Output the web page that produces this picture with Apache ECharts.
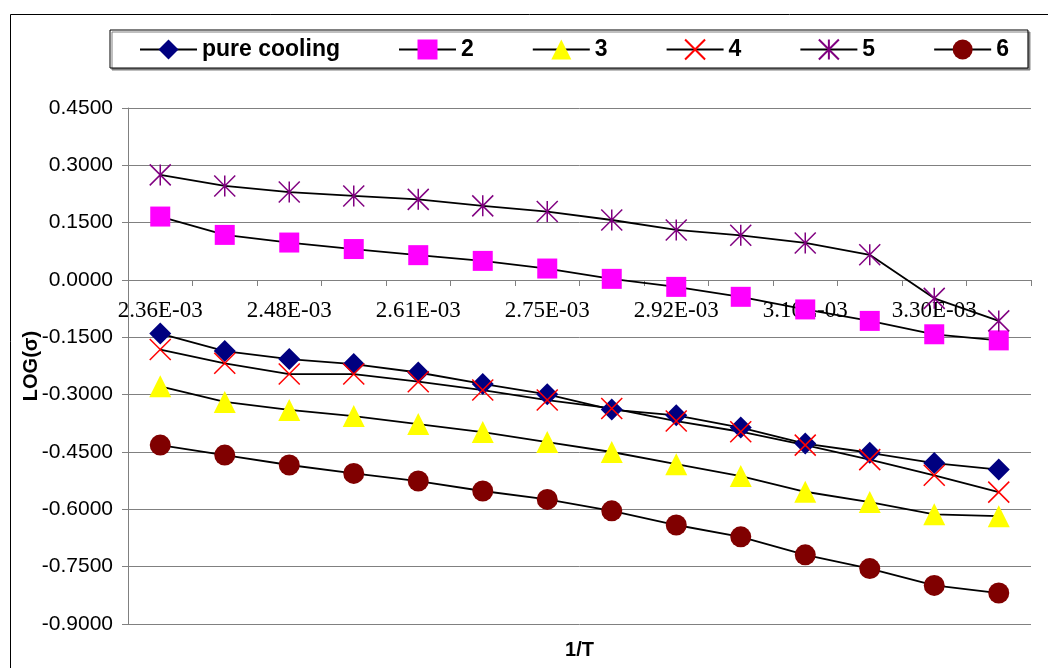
<!DOCTYPE html>
<html>
<head>
<meta charset="utf-8">
<title>LOG(σ) vs 1/T</title>
<script src="https://cdn.jsdelivr.net/npm/echarts@6/dist/echarts.min.js"></script>
<style>
  html, body { margin: 0; padding: 0; background: #fff; }
  #chart { width: 1048px; height: 668px; }
</style>
</head>
<body>
<div id="chart"></div>
<script>
// 1/T categories (every other label shown on the axis)
const xLabels = ['2.36E-03', '2.42E-03', '2.48E-03', '2.54E-03', '2.61E-03', '2.68E-03', '2.75E-03',
  '2.83E-03', '2.92E-03', '3.01E-03', '3.10E-03', '3.20E-03', '3.30E-03', '3.41E-03']

const pureCooling = [-0.140, -0.186, -0.207, -0.220, -0.242, -0.272, -0.299, -0.339, -0.354, -0.386, -0.428, -0.452, -0.479, -0.496]
const s2 = [0.166, 0.118, 0.098, 0.081, 0.065, 0.050, 0.030, 0.003, -0.018, -0.044, -0.077, -0.107, -0.142, -0.158]
const s3 = [-0.278, -0.319, -0.340, -0.356, -0.377, -0.398, -0.424, -0.450, -0.482, -0.513, -0.554, -0.581, -0.613, -0.618]
const s4 = [-0.182, -0.218, -0.246, -0.246, -0.266, -0.288, -0.314, -0.336, -0.369, -0.397, -0.432, -0.470, -0.511, -0.555]
const s5 = [0.275, 0.246, 0.230, 0.220, 0.211, 0.194, 0.179, 0.157, 0.131, 0.117, 0.097, 0.066, -0.048, -0.107]
const s6 = [-0.432, -0.458, -0.484, -0.506, -0.526, -0.552, -0.574, -0.604, -0.641, -0.672, -0.719, -0.755, -0.799, -0.819]

// excel style markers
const crossPath = 'path://M0,0L20,20M20,0L0,20'
const starPath = 'path://M0,0L20,20M20,0L0,20M10,0L10,20'

const yMin = -0.9
const yMax = 0.45
const gridTop = 108
const gridBottom = 44
// x axis sits on LOG = 0, like the excel original
const gridHeight = 668 - gridTop - gridBottom
const zeroOffset = -gridHeight * (0 - yMin) / (yMax - yMin)

const makeSeries = (name, data, symbol, size, itemStyle) => ({
  name: name,
  type: 'line',
  data: data,
  symbol: symbol,
  symbolSize: size,
  showAllSymbol: true,
  itemStyle: itemStyle,
  lineStyle: { color: '#000', width: 1.8 },
  emphasis: { disabled: true },
  animation: false
})

const chart = echarts.init(document.getElementById('chart'))

const option = {
  backgroundColor: '#fff',
  graphic: [{
    type: 'rect',
    left: 8,
    top: 12,
    shape: { width: 1100, height: 700 },
    style: { fill: 'none', stroke: '#000', lineWidth: 1 },
    silent: true
  }, {
    // y axis title, placed by hand (axis name gets pushed by v6 layout)
    type: 'text',
    x: 31,
    y: 366,
    rotation: Math.PI / 2,
    style: {
      text: 'LOG(σ)',
      align: 'center',
      verticalAlign: 'middle',
      fontFamily: 'Liberation Sans',
      fontWeight: 'bold',
      fontSize: 20,
      fill: '#000'
    },
    silent: true
  }],
  legend: {
    left: 110,
    top: 30,
    padding: [8, 19, 7, 29],
    itemGap: 58,
    itemWidth: 57,
    itemHeight: 25,
    backgroundColor: '#fff',
    borderColor: '#000',
    borderWidth: 1,
    shadowColor: '#808080',
    shadowOffsetX: 2,
    shadowOffsetY: 2,
    shadowBlur: 0,
    textStyle: { fontFamily: 'Liberation Sans', fontWeight: 'bold', fontSize: 23, color: '#000' },
    data: ['pure cooling', '2', '3', '4', '5', '6']
  },
  grid: { left: 128, right: 17, top: gridTop, bottom: gridBottom, outerBoundsMode: 'none', containLabel: false },
  xAxis: {
    type: 'category',
    data: xLabels,
    boundaryGap: true,
    position: 'bottom',
    offset: zeroOffset,
    name: '1/T',
    nameLocation: 'middle',
    nameGap: 360,
    nameTextStyle: { fontFamily: 'Liberation Sans', fontWeight: 'bold', fontSize: 20, color: '#000' },
    axisLine: { onZero: false, lineStyle: { color: '#808080', width: 1 } },
    axisTick: { show: true, interval: 0, length: 6, lineStyle: { color: '#808080' } },
    axisLabel: {
      interval: 1,
      margin: 19,
      fontFamily: 'Liberation Serif',
      fontSize: 23,
      color: '#000'
    },
    splitLine: { show: false }
  },
  yAxis: {
    type: 'value',
    min: yMin,
    max: yMax,
    interval: 0.15,
    axisLine: { show: true, lineStyle: { color: '#808080', width: 1 } },
    axisTick: { show: true, length: 6, lineStyle: { color: '#808080' } },
    axisLabel: {
      margin: 15,
      fontFamily: 'Liberation Sans',
      fontSize: 21,
      color: '#000',
      showMinLabel: true,
      showMaxLabel: true,
      formatter: v => v.toFixed(4)
    },
    splitLine: { show: true, lineStyle: { color: '#808080', width: 1 } }
  },
  series: [
    makeSeries('pure cooling', pureCooling, 'diamond', 22, { color: '#000080' }),
    makeSeries('2', s2, 'rect', 20, { color: '#FF00FF' }),
    makeSeries('3', s3, 'triangle', 22, { color: '#FFFF00' }),
    makeSeries('4', s4, crossPath, 21, { color: 'rgba(0,0,0,0)', borderColor: '#FF0000', borderWidth: 1.5 }),
    makeSeries('5', s5, starPath, 21, { color: 'rgba(0,0,0,0)', borderColor: '#800080', borderWidth: 1.5 }),
    makeSeries('6', s6, 'circle', 21, { color: '#800000' })
  ]
}

chart.setOption(option)
</script>
</body>
</html>
